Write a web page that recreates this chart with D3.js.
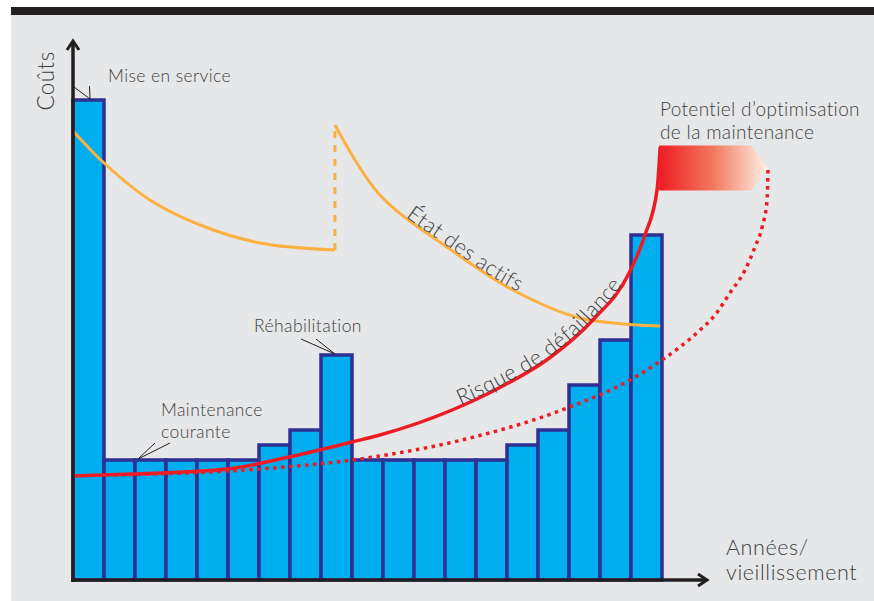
<!DOCTYPE html>
<html>
<head>
<meta charset="utf-8">
<script src="https://cdn.jsdelivr.net/npm/d3@7"></script>
<style>
  html, body { margin: 0; padding: 0; background: #ffffff; }
  svg { display: block; }
  text { font-family: Lato, "Open Sans", sans-serif; font-weight: 300; fill: #3f3f41; }
</style>
</head>
<body>
<svg id="chart" width="874" height="601"></svg>
<script>
// ---- data -------------------------------------------------------------
// yearly cost bars (arbitrary cost units)
const years = d3.range(1, 20);
const costs = [96, 24, 24, 24, 24, 24, 27, 30, 45, 24, 24, 24, 24, 24, 27, 30, 39, 48, 69];

// asset condition, before and after the rehabilitation ([year, value])
const assetStateBefore = [[0, 89.8], [1, 83.4], [2.48, 76], [4.1, 71], [6.03, 67.4], [8.45, 66]];
const assetStateAfter  = [[8.45, 91], [9.9, 77], [12.06, 66.6], [14.19, 58], [16.35, 52.4], [18.94, 50.8]];

// failure risk, current maintenance
const failureRisk = [[0, 20.8], [1.94, 21.2], [4.97, 22.2], [6.97, 24.6], [9.0, 27.6], [9.9, 29],
  [12.23, 34], [13.77, 38.5], [15.39, 44.5], [16.77, 52], [17.94, 61.4], [18.45, 69], [18.84, 78], [18.94, 86.6]];

// failure risk, optimised maintenance
const failureRiskOptimised = [[1.3, 21.0], [6.03, 22.2], [9.9, 24.8], [12.81, 28.4], [15.94, 34.4],
  [17.97, 40], [19.0, 44], [19.58, 46.6], [20.23, 50], [20.71, 53], [21.19, 57.4], [21.68, 62],
  [22.0, 66.6], [22.23, 70.6], [22.39, 76], [22.42, 82.4]];

// ---- layout -----------------------------------------------------------
const svg = d3.select("#chart");
const W = 874, H = 601;
const x0 = 73, x1 = 662, yBase = 580, yTopRange = 80;

const xBand = d3.scaleBand().domain(years).range([x0, x1]).padding(0);
const x = d3.scaleLinear().domain([0, years.length]).range([x0, x1]);
const y = d3.scaleLinear().domain([0, 100]).range([yBase, yTopRange]);

// panel background and top rule
svg.append("rect").attr("x", 11).attr("y", 7).attr("width", W - 11).attr("height", H - 7).attr("fill", "#e6e7e8");
svg.append("rect").attr("x", 11).attr("y", 7).attr("width", W - 11).attr("height", 8).attr("fill", "#231f20");

// gradient for the optimisation arrow
const defs = svg.append("defs");
const grad = defs.append("linearGradient").attr("id", "optGrad").attr("x1", "0").attr("x2", "1").attr("y1", "0").attr("y2", "0");
grad.append("stop").attr("offset", "0%").attr("stop-color", "#ed1c24");
grad.append("stop").attr("offset", "50%").attr("stop-color", "#f27a5e");
grad.append("stop").attr("offset", "100%").attr("stop-color", "#fff1ea");

// ---- bars -------------------------------------------------------------
svg.append("g").selectAll("rect").data(costs).join("rect")
  .attr("x", (d, i) => xBand(years[i]))
  .attr("y", d => y(d))
  .attr("width", xBand.bandwidth())
  .attr("height", d => yBase - y(d))
  .attr("fill", "#00aeef")
  .attr("stroke", "#2e3192")
  .attr("stroke-width", 3.5);

// ---- curves -----------------------------------------------------------
const line = d3.line().x(d => x(d[0])).y(d => y(d[1])).curve(d3.curveCatmullRom.alpha(0.5));
const smooth = d3.line().x(d => x(d[0])).y(d => y(d[1])).curve(d3.curveMonotoneX);

const orange = "#fbb040";
svg.append("path").attr("d", line(assetStateBefore)).attr("fill", "none")
  .attr("stroke", orange).attr("stroke-width", 3);
svg.append("line")
  .attr("x1", x(assetStateBefore[assetStateBefore.length - 1][0])).attr("x2", x(assetStateAfter[0][0]))
  .attr("y1", y(assetStateBefore[assetStateBefore.length - 1][1])).attr("y2", y(assetStateAfter[0][1]))
  .attr("stroke", orange).attr("stroke-width", 3).attr("stroke-dasharray", "7,7");
svg.append("path").attr("id", "assetPath").attr("d", line(assetStateAfter)).attr("fill", "none")
  .attr("stroke", orange).attr("stroke-width", 3);

svg.append("path").attr("id", "riskPath").attr("d", smooth(failureRisk)).attr("fill", "none")
  .attr("stroke", "#ed1c24").attr("stroke-width", 3.5);
svg.append("path").attr("d", smooth(failureRiskOptimised)).attr("fill", "none")
  .attr("stroke", "#ed1c24").attr("stroke-width", 3.5).attr("stroke-dasharray", "3.5,4.5");

// ---- optimisation arrow between the two risk curves -------------------
const riskEnd = failureRisk[failureRisk.length - 1];
const optEnd = failureRiskOptimised[failureRiskOptimised.length - 1];
const ax0 = x(riskEnd[0]) - 1, tipX = x(optEnd[0]), tipY = y(optEnd[1]);
const half = 22.5, notch = 17;
svg.append("path")
  .attr("d", `M${ax0},${tipY - half} L${tipX - notch},${tipY - half} L${tipX},${tipY} L${tipX - notch},${tipY + half} L${ax0},${tipY + half} Z`)
  .attr("fill", "url(#optGrad)");

// ---- axes -------------------------------------------------------------
const axisColor = "#231f20";
const xAxisEnd = 707, yAxisEnd = 41;
svg.append("line").attr("x1", x0).attr("x2", x0).attr("y1", yBase + 2).attr("y2", yAxisEnd + 1)
  .attr("stroke", axisColor).attr("stroke-width", 3.5);
svg.append("line").attr("x1", x0 - 2).attr("x2", xAxisEnd - 1).attr("y1", yBase).attr("y2", yBase)
  .attr("stroke", axisColor).attr("stroke-width", 3.5);
svg.append("path").attr("d", `M${x0 - 6},${yAxisEnd + 9} L${x0},${yAxisEnd} L${x0 + 6},${yAxisEnd + 9}`)
  .attr("fill", "none").attr("stroke", axisColor).attr("stroke-width", 3);
svg.append("path").attr("d", `M${xAxisEnd - 9},${yBase - 6} L${xAxisEnd},${yBase} L${xAxisEnd - 9},${yBase + 6}`)
  .attr("fill", "none").attr("stroke", axisColor).attr("stroke-width", 3);

svg.append("text").text("Coûts")
  .attr("transform", `translate(54,81) rotate(-90)`)
  .attr("text-anchor", "middle").attr("font-size", 22.5).attr("letter-spacing", 0.4);

svg.append("text").attr("x", 726).attr("y", 555).attr("font-size", 21.5).attr("letter-spacing", 0.6).text("Années/");
svg.append("text").attr("x", 726).attr("y", 580).attr("font-size", 21.5).attr("letter-spacing", 0.6).text("vieillissement");

// ---- annotations with leader lines ------------------------------------
const notes = [
  { lines: ["Mise en service"], bar: 1, tx: 108, ty: 82, from: [[-16, -12], [-0.5, -13]], dx: 1.5 },
  { lines: ["Maintenance", "courante"], bar: 3, tx: 161, ty: 416, from: [[17, -16], [32, -16]], dx: -12.5 },
  { lines: ["Réhabilitation"], bar: 9, tx: 254, ty: 332, from: [[-34, -15], [-19, -15]], dx: -1.5 }
];
notes.forEach(n => {
  const px = xBand(n.bar) + xBand.bandwidth() / 2 + n.dx;
  const py = y(costs[n.bar - 1]) - 1;
  n.lines.forEach((t, i) => {
    svg.append("text").attr("x", n.tx).attr("y", n.ty + i * 21.5)
      .attr("font-size", 17.5).attr("letter-spacing", 0.4).text(t);
  });
  n.from.forEach(f => {
    svg.append("line").attr("x1", px + f[0]).attr("y1", py + f[1]).attr("x2", px).attr("y2", py)
      .attr("stroke", "#231f20").attr("stroke-width", 1);
  });
});

svg.append("text").attr("x", 660).attr("y", 116).attr("font-size", 19).attr("letter-spacing", 0.35).text("Potentiel d’optimisation");
svg.append("text").attr("x", 660).attr("y", 139).attr("font-size", 19).attr("letter-spacing", 0.35).text("de la maintenance");

// ---- curve labels placed along the curves ------------------------------
function offsetAtX(pathId, targetX) {
  const p = document.getElementById(pathId);
  const len = p.getTotalLength();
  let best = 0, bestD = Infinity;
  for (let l = 0; l <= len; l += 0.5) {
    const d = Math.abs(p.getPointAtLength(l).x - targetX);
    if (d < bestD) { bestD = d; best = l; }
  }
  return best;
}
svg.append("text").attr("font-size", 21.5).attr("letter-spacing", 0.4).attr("dy", -1)
  .append("textPath").attr("href", "#assetPath")
  .attr("startOffset", offsetAtX("assetPath", 405))
  .text("État des actifs");
svg.append("text").attr("font-size", 21.5).attr("letter-spacing", 0.5).attr("dy", -1)
  .append("textPath").attr("href", "#riskPath")
  .attr("startOffset", offsetAtX("riskPath", 461))
  .text("Risque de défaillance");
</script>
</body>
</html>
